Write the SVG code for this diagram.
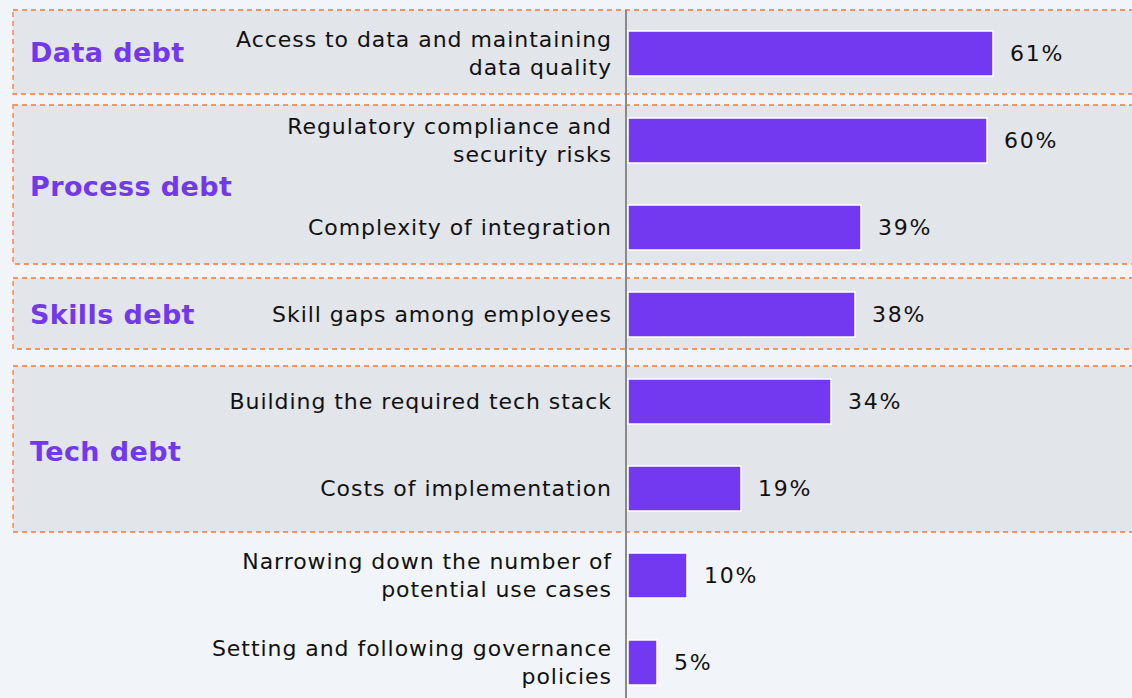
<svg xmlns="http://www.w3.org/2000/svg" width="1132" height="698" viewBox="0 0 1132 698">
<style>
.bg{fill:#f1f5f9}
.grp{fill:#e2e5ea;stroke:#f4783c;stroke-width:1.3;stroke-dasharray:5 4}
.gl{font-family:"DejaVu Sans",Verdana,sans-serif;font-weight:bold;font-size:27px;letter-spacing:0.4px;fill:#7239ea}
.lb{font-family:"DejaVu Sans",Verdana,sans-serif;font-size:22px;letter-spacing:0.95px;fill:#111;text-anchor:end}
.pc{font-family:"DejaVu Sans",Verdana,sans-serif;font-size:22px;letter-spacing:1.8px;fill:#111}
.bar{fill:#7239f0;stroke:#ffffff;stroke-width:1.5}
.axis{stroke:#8a8a8a;stroke-width:2}
</style>
<rect class="bg" x="0" y="0" width="1132" height="698"/>
<g id="group-data-debt">
<rect class="grp" x="13" y="10" width="1130" height="84"/>
<text class="gl" x="30" y="62">Data debt</text>
</g>
<g id="group-process-debt">
<rect class="grp" x="13" y="105" width="1130" height="159"/>
<text class="gl" x="30" y="196">Process debt</text>
</g>
<g id="group-skills-debt">
<rect class="grp" x="13" y="278" width="1130" height="71"/>
<text class="gl" x="30" y="324">Skills debt</text>
</g>
<g id="group-tech-debt">
<rect class="grp" x="13" y="366" width="1130" height="166"/>
<text class="gl" x="30" y="461">Tech debt</text>
</g>
<g id="bar-1">
<rect class="bar" x="628" y="31" width="365" height="45"/>
<text class="lb" x="612" y="47">Access to data and maintaining</text>
<text class="lb" x="612" y="75">data quality</text>
<text class="pc" x="1010" y="61">61%</text>
</g>
<g id="bar-2">
<rect class="bar" x="628" y="118" width="359" height="45"/>
<text class="lb" x="612" y="134">Regulatory compliance and</text>
<text class="lb" x="612" y="162">security risks</text>
<text class="pc" x="1004" y="148">60%</text>
</g>
<g id="bar-3">
<rect class="bar" x="628" y="205" width="233" height="45"/>
<text class="lb" x="612" y="235">Complexity of integration</text>
<text class="pc" x="878" y="235">39%</text>
</g>
<g id="bar-4">
<rect class="bar" x="628" y="292" width="227" height="45"/>
<text class="lb" x="612" y="322">Skill gaps among employees</text>
<text class="pc" x="872" y="322">38%</text>
</g>
<g id="bar-5">
<rect class="bar" x="628" y="379" width="203" height="45"/>
<text class="lb" x="612" y="409">Building the required tech stack</text>
<text class="pc" x="848" y="409">34%</text>
</g>
<g id="bar-6">
<rect class="bar" x="628" y="466" width="113" height="45"/>
<text class="lb" x="612" y="496">Costs of implementation</text>
<text class="pc" x="758" y="496">19%</text>
</g>
<g id="bar-7">
<rect class="bar" x="628" y="553" width="59" height="45"/>
<text class="lb" x="612" y="569">Narrowing down the number of</text>
<text class="lb" x="612" y="597">potential use cases</text>
<text class="pc" x="704" y="583">10%</text>
</g>
<g id="bar-8">
<rect class="bar" x="628" y="640" width="29" height="45"/>
<text class="lb" x="612" y="656">Setting and following governance</text>
<text class="lb" x="612" y="684">policies</text>
<text class="pc" x="674" y="670">5%</text>
</g>
<g id="connectors">
<line class="axis" x1="626" y1="10" x2="626" y2="698"/>
</g>
</svg>
